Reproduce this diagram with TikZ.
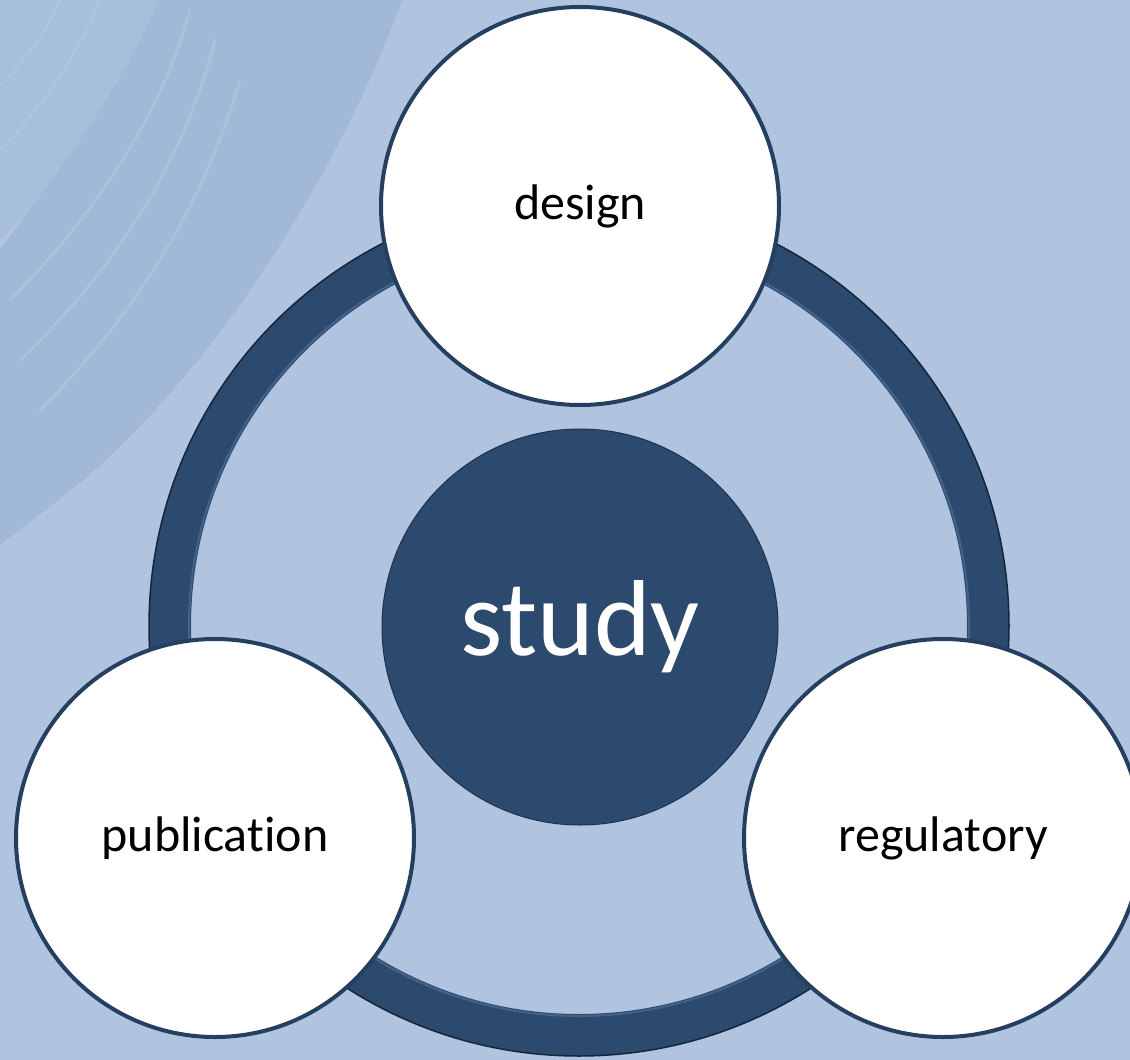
\documentclass[tikz,border=0pt]{standalone}
\usepackage{fontspec}
\setmainfont{Carlito}[Ligatures={NoCommon,NoRare,NoContextual}]
\definecolor{bgcol}{HTML}{B0C4E0}
\definecolor{swcol}{HTML}{A1B9D6}
\definecolor{swmid}{HTML}{A8BFDB}
\definecolor{swlight}{HTML}{B6C9E3}
\definecolor{ringcol}{HTML}{2C4A6E}
\definecolor{ringhi}{HTML}{5273A0}
\definecolor{edgecol}{HTML}{253F60}
\begin{document}
\begin{tikzpicture}[x=1pt,y=-1pt,
  outerc/.style={circle, draw=edgecol, line width=4pt, fill=white, minimum size=398pt, inner sep=0pt, font=\fontsize{50}{56}\selectfont, text=black},
  studyc/.style={circle, draw=edgecol!80!black, line width=1pt, fill=ringcol, minimum size=396pt, inner sep=0pt, font=\fontsize{108}{120}\selectfont, text=white}]
\fill[bgcol] (0,0) rectangle (1130,1060);
\useasboundingbox (0,0) rectangle (1130,1060);
% brushed swoosh
\fill[swmid] (0,0) -- (170,0) .. controls (130,90) and (70,170) .. (0,240) -- cycle;
\fill[swcol] (160,0) -- (402,0) .. controls (360,120) and (250,330) .. (95,470)
  .. controls (60,500) and (25,525) .. (0,545) -- (0,250) .. controls (60,170) and (120,90) .. (160,0) -- cycle;
\begin{scope}[swlight, line width=3pt, opacity=0.45, line cap=round]
\draw (190,10) .. controls (160,120) and (90,220) .. (10,300);
\draw (215,40) .. controls (185,160) and (115,270) .. (20,360);
\draw (240,80) .. controls (205,200) and (140,310) .. (40,410);
\end{scope}
\begin{scope}[swlight, line width=2pt, opacity=0.5, line cap=round]
\draw (100,0) .. controls (75,60) and (40,110) .. (0,150);
\draw (60,0) .. controls (45,35) and (25,60) .. (0,85);
\end{scope}
% ring
\draw[line width=42pt, ringcol] (579,626) circle (409pt);
\draw[line width=2pt, ringhi, opacity=0.6] (579,626) circle (390pt);
\draw[line width=1.5pt, edgecol!60!black] (579,626) circle (430pt);
% nodes
\node[studyc] (study) at (580,627) {study};
\node[outerc] (design) at (580,206) {design};
\node[outerc] (publication) at (215,838) {publication};
\node[outerc] (regulatory) at (943,838) {regulatory};
\end{tikzpicture}
\end{document}
